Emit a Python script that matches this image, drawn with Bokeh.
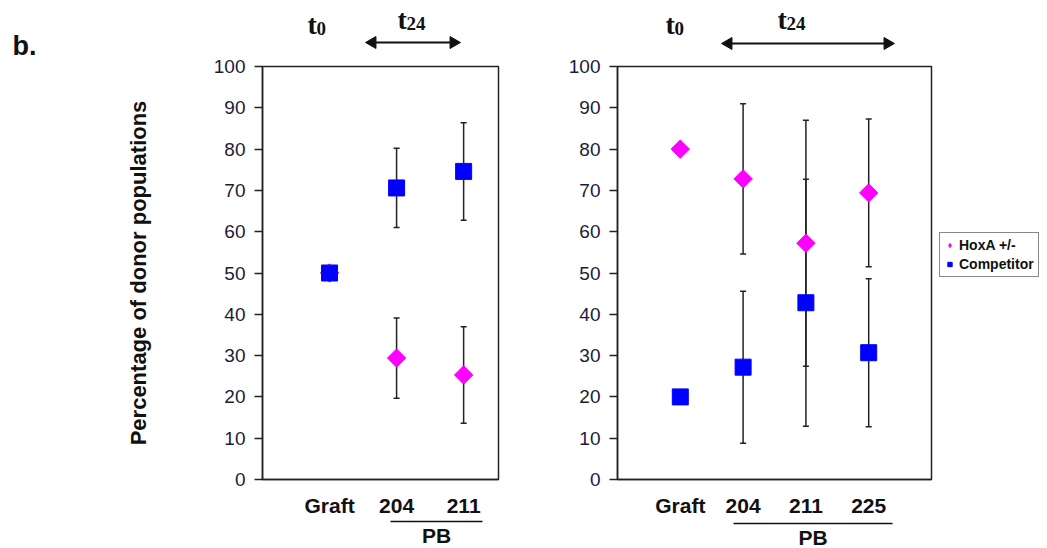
import math
from bokeh.plotting import figure
from bokeh.models import (Range1d, FixedTicker, Whisker, TeeHead, ColumnDataSource,
                          Legend, LegendItem)
from bokeh.core.properties import value
from bokeh.layouts import row, column
from bokeh.embed import file_html
from bokeh.resources import INLINE

# ---------------- data ----------------
left_categories = ["Graft", "204", "211"]
left_hoxa = [50.0, 29.4, 25.3]
left_hoxa_err = [0.0, 9.7, 11.7]
left_comp = [50.0, 70.6, 74.6]
left_comp_err = [0.0, 9.6, 11.8]

right_categories = ["Graft", "204", "211", "225"]
right_hoxa = [80.0, 72.8, 57.2, 69.4]
right_hoxa_err = [0.0, 18.2, 29.8, 17.9]
right_comp = [20.0, 27.2, 42.8, 30.7]
right_comp_err = [0.0, 18.4, 29.9, 17.9]

series_labels = ["HoxA +/-", "Competitor"]
y_ticks = [0, 10, 20, 30, 40, 50, 60, 70, 80, 90, 100]

MAGENTA = "#FF00FF"
BLUE = "#0000FF"
INK = "#222222"
TXT = "#111111"
TICK_COL = "#1c1c38"

LEFT_COL_W = 100
P1_W, P2_W, LEG_W = 460, 378, 108
TOTAL_W = LEFT_COL_W + P1_W + P2_W + LEG_W
HEADER_H = 56
MAIN_TOP = 10
FRAME_H = 419
MAIN_BOTTOM = 34
MAIN_H = MAIN_TOP + FRAME_H + MAIN_BOTTOM
FOOTER_H = 29
TOTAL_H = HEADER_H + MAIN_H + FOOTER_H
TXT_SHIFT = 10  # alphabetic baseline correction for text glyphs
OX = LEFT_COL_W  # x offset of header/footer strips

DIAMOND = dict(marker="square", angle=math.pi / 4, size=13, fill_color=MAGENTA, line_color=MAGENTA)
SQUARE = dict(marker="square", size=16, fill_color=BLUE, line_color=BLUE)


def blank(width, height):
    f = figure(width=width, height=height, output_backend="svg", toolbar_location=None,
               x_range=Range1d(0, width), y_range=Range1d(height, 0),
               min_border=0, min_border_left=0, min_border_right=0,
               min_border_top=0, min_border_bottom=0)
    f.axis.visible = False
    f.grid.visible = False
    f.outline_line_color = None
    f.background_fill_color = "white"
    f.border_fill_color = "white"
    return f


def make_panel(cats, hoxa, hoxa_err, comp, comp_err, width, bl, br, xend, ylabel):
    p = figure(width=width, height=MAIN_H, output_backend="svg",
               toolbar_location=None, x_range=Range1d(0, xend), y_range=Range1d(0, 100),
               min_border_left=bl, min_border_right=br, min_border_top=MAIN_TOP,
               min_border_bottom=MAIN_BOTTOM)
    p.grid.visible = False
    p.outline_line_color = INK
    p.outline_line_width = 1.5
    p.background_fill_color = "white"
    p.border_fill_color = "white"

    xs = list(range(1, len(cats) + 1))
    ya = p.yaxis[0]
    ya.ticker = FixedTicker(ticks=y_ticks)
    ya.minor_tick_line_color = None
    ya.major_tick_in = 0
    ya.major_tick_out = 8
    ya.major_tick_line_width = 1.5
    ya.major_tick_line_color = INK
    ya.axis_line_color = INK
    ya.axis_line_width = 1.5
    ya.major_label_text_font = "Liberation Sans"
    ya.major_label_text_font_size = "19px"
    ya.major_label_text_color = TICK_COL
    ya.major_label_standoff = 9
    if ylabel:
        ya.axis_label = ylabel
        ya.axis_label_text_font = "Liberation Sans"
        ya.axis_label_text_font_style = "bold"
        ya.axis_label_text_font_size = "22px"
        ya.axis_label_text_color = TXT
        ya.axis_label_standoff = 60
    xa = p.xaxis[0]
    xa.ticker = FixedTicker(ticks=xs)
    xa.major_label_overrides = {x: c for x, c in zip(xs, cats)}
    xa.minor_tick_line_color = None
    xa.major_tick_line_color = None
    xa.axis_line_color = INK
    xa.axis_line_width = 1.5
    xa.major_label_text_font = "Liberation Sans"
    xa.major_label_text_font_style = "bold"
    xa.major_label_text_font_size = "21px"
    xa.major_label_text_color = TXT
    xa.major_label_standoff = 8

    for vals, errs in ((hoxa, hoxa_err), (comp, comp_err)):
        src = ColumnDataSource(dict(x=xs[1:],
                                    up=[v + e for v, e in zip(vals[1:], errs[1:])],
                                    lo=[v - e for v, e in zip(vals[1:], errs[1:])]))
        p.add_layout(Whisker(source=src, base="x", upper="up", lower="lo", line_color=INK,
                             line_width=1.5, level="underlay",
                             upper_head=TeeHead(size=6, line_color=INK, line_width=1.5),
                             lower_head=TeeHead(size=6, line_color=INK, line_width=1.5)))

    p.scatter(xs, hoxa, **DIAMOND)
    p.scatter(xs, comp, **SQUARE)
    return p


# ---------------- main panels ----------------
p1 = make_panel(left_categories, left_hoxa, left_hoxa_err, left_comp, left_comp_err,
                P1_W, 262 - OX, 62, 3.52, "Percentage of donor populations")
p2 = make_panel(right_categories, right_hoxa, right_hoxa_err, right_comp, right_comp_err,
                P2_W, 57, 7, 5.0, None)

# ---------------- legend column ----------------
lf = blank(LEG_W, MAIN_H)
# swatch-only renderers, placed outside the visible range
lh = lf.scatter(x=[-50], y=[-50], marker="diamond", size=15, fill_color=MAGENTA, line_color=MAGENTA)
lc = lf.scatter(x=[-50], y=[-50], **SQUARE)
legend = Legend(items=[LegendItem(label=series_labels[0], renderers=[lh]),
                       LegendItem(label=series_labels[1], renderers=[lc])],
                location=(1, 202), border_line_color=TXT,
                border_line_width=1.5, padding=4, spacing=3, margin=0,
                label_text_font="Liberation Sans", label_text_font_style="bold",
                label_text_font_size="14px", label_text_color=TXT, glyph_width=11,
                glyph_height=16, label_standoff=4, label_height=16,
                background_fill_color="white", background_fill_alpha=1.0)
lf.add_layout(legend, "center")

# ---------------- panel letter column ----------------
bcol = blank(LEFT_COL_W, TOTAL_H)
sans = value("Liberation Sans")
serif = value("Liberation Serif")
bcol.text(x=[12], y=[55 - TXT_SHIFT], text=["b."], text_font=sans, text_font_style="bold",
          text_font_size="27px", text_color=TXT, text_baseline="alphabetic")

# ---------------- header (time labels, arrows) ----------------
hdr = blank(TOTAL_W - OX, HEADER_H)
# (page x of "t", baseline of "t", subscript)
t_pos = [(307, 34, "0"), (397, 29, "24"), (665, 34, "0"), (777, 29, "24")]
hdr.text(x=[t[0] - OX for t in t_pos], y=[t[1] - TXT_SHIFT for t in t_pos],
         text=["t"] * len(t_pos), text_font=serif, text_font_style="bold",
         text_font_size="28px", text_color=TXT, text_baseline="alphabetic")
hdr.text(x=[t[0] + 9 - OX for t in t_pos], y=[t[1] + 4 - TXT_SHIFT for t in t_pos],
         text=[t[2] for t in t_pos], text_font=serif, text_font_style="bold",
         text_font_size="19px", text_color=TXT, text_baseline="alphabetic")
arrows = [(367, 458, 42), (723, 892, 43)]
hdr.segment(x0=[a[0] + 6 - OX for a in arrows], x1=[a[1] - 6 - OX for a in arrows],
            y0=[a[2] for a in arrows], y1=[a[2] for a in arrows], line_width=2, line_color=TXT)
hdr.scatter(x=[a[0] + 5 - OX for a in arrows], y=[a[2] for a in arrows], marker="triangle",
            angle=math.pi / 2, size=12, fill_color=TXT, line_color=TXT)
hdr.scatter(x=[a[1] - 5 - OX for a in arrows], y=[a[2] for a in arrows], marker="triangle",
            angle=-math.pi / 2, size=12, fill_color=TXT, line_color=TXT)

# ---------------- footer (PB brackets) ----------------
ftr = blank(TOTAL_W - OX, FOOTER_H)
pb_lines = [(390, 482, 2), (733, 892, 4)]
ftr.segment(x0=[b[0] - OX for b in pb_lines], x1=[b[1] - OX for b in pb_lines],
            y0=[b[2] for b in pb_lines], y1=[b[2] for b in pb_lines], line_width=1.5,
            line_color=TXT)
ftr.text(x=[(b[0] + b[1]) / 2 - OX for b in pb_lines], y=[b[2] + 14 for b in pb_lines],
         text=["PB", "PB"], text_font=sans, text_font_style="bold", text_font_size="21px",
         text_color=TXT, text_align="center", text_baseline="middle")

layout = row(bcol, column(hdr, row(p1, p2, lf), ftr))
open("out.html", "w").write(file_html(layout, INLINE))
